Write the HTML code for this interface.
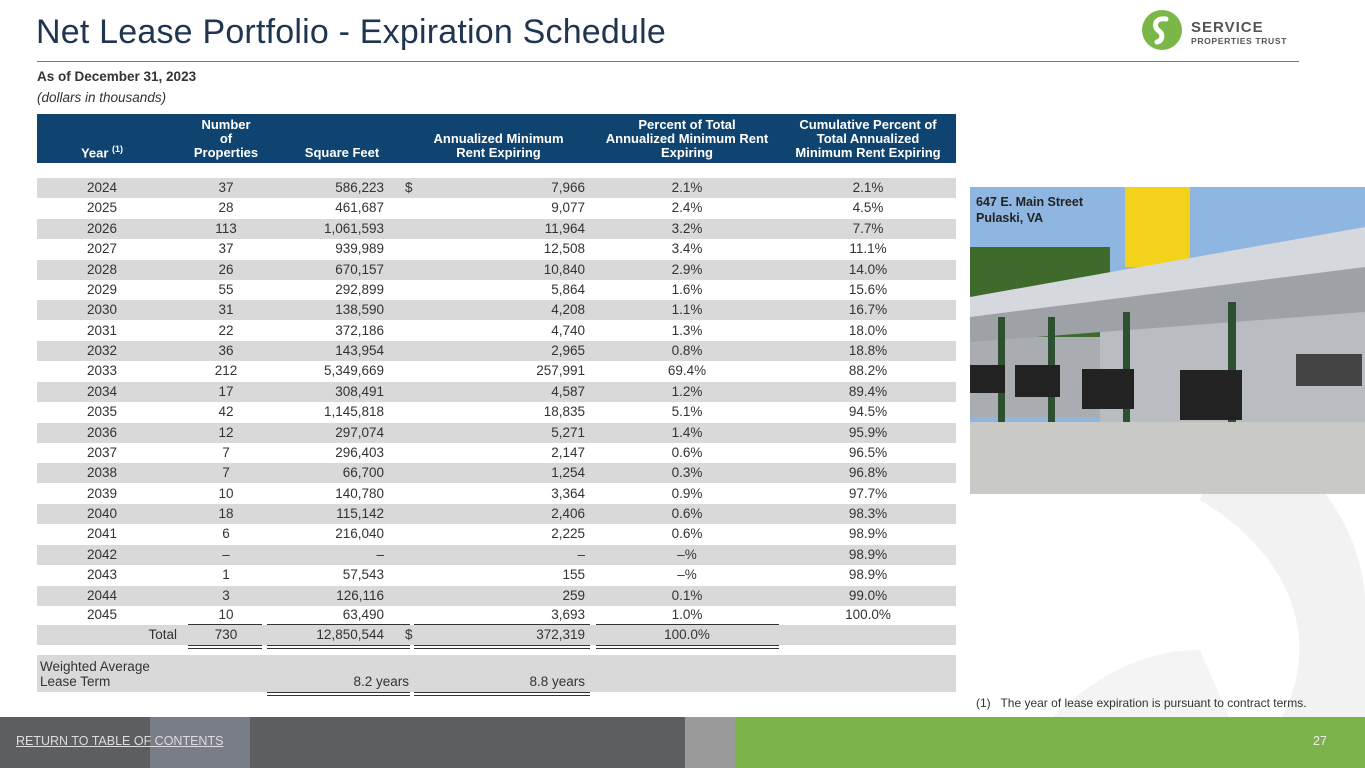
<!DOCTYPE html>
<html><head><meta charset="utf-8"><style>
*{margin:0;padding:0;box-sizing:border-box}
body{width:1365px;height:768px;position:relative;overflow:hidden;background:#fff;font-family:"Liberation Sans",sans-serif;color:#333}
.a{position:absolute}
.title{left:36px;top:13px;font-size:34px;color:#1f3550;letter-spacing:0.2px}
.hr{left:37px;top:61px;width:1262px;height:1px;background:#777}
.hdr{left:37px;top:114px;width:919px;height:49px;background:#0f4470}
.h{position:absolute;color:#fff;font-weight:bold;font-size:13px;text-align:center;line-height:14px;bottom:3px}
.row{position:absolute;left:37px;width:919px;height:20px;font-size:13.5px;line-height:20px}
.row.s{background:#d9d9d9}
.row span{position:absolute;top:0}
.c1{left:0;width:130px;text-align:center}
.c2{left:151px;width:76px;text-align:center}
.c3{left:231px;width:116px;text-align:right}
.c4{left:368px}
.c5{left:375px;width:173px;text-align:right}
.c6{left:559px;width:182px;text-align:center}
.c7{left:743px;width:176px;text-align:center}
.ul{position:absolute;height:1px;background:#333}
.dl{position:absolute;height:4px;border-top:1px solid #333;border-bottom:1px solid #333}
</style></head><body>
<svg class="a" style="left:900px;top:420px" width="465" height="300"><path d="M330 0 C420 40 470 120 465 200 L465 300 L380 300 C420 230 400 140 300 80 Z" fill="#f2f2f2"/><path d="M150 300 C190 260 240 230 300 230 L330 300 Z" fill="#f4f4f4"/></svg>
<div class="a title">Net Lease Portfolio - Expiration Schedule</div>
<div class="a hr"></div>
<svg class="a" style="left:1142px;top:10px" width="160" height="42">
<circle cx="20" cy="20" r="20" fill="#7ab648"/>
<path d="M24 9 C14 7 10 16 17 21 C22 25 20 31 15 32" stroke="#fff" stroke-width="5" fill="none" stroke-linecap="round"/>
<text x="49" y="22" font-family="Liberation Sans" font-weight="bold" font-size="15" fill="#555" letter-spacing="1">SERVICE</text>
<text x="49" y="34" font-family="Liberation Sans" font-weight="bold" font-size="8.6" fill="#555" letter-spacing="0.6">PROPERTIES TRUST</text>
</svg>
<div class="a" style="left:37px;top:69px;font-size:13.5px;font-weight:bold;color:#333">As of December 31, 2023</div>
<div class="a" style="left:37px;top:90px;font-size:13.5px;font-style:italic;color:#333">(dollars in thousands)</div>
<div class="a hdr">
<div class="h" style="left:0;width:130px">Year <sup style="font-size:9px">(1)</sup></div>
<div class="h" style="left:151px;width:76px">Number<br>of<br>Properties</div>
<div class="h" style="left:240px;width:130px">Square Feet</div>
<div class="h" style="left:375px;width:173px">Annualized Minimum<br>Rent Expiring</div>
<div class="h" style="left:559px;width:182px">Percent of Total<br>Annualized Minimum Rent<br>Expiring</div>
<div class="h" style="left:743px;width:176px">Cumulative Percent of<br>Total Annualized<br>Minimum Rent Expiring</div>
</div>
<div class="row s" style="top:178px"><span class="c1">2024</span><span class="c2">37</span><span class="c3">586,223</span><span class="c4">$</span><span class="c5">7,966</span><span class="c6">2.1%</span><span class="c7">2.1%</span></div>
<div class="row" style="top:198px"><span class="c1">2025</span><span class="c2">28</span><span class="c3">461,687</span><span class="c5">9,077</span><span class="c6">2.4%</span><span class="c7">4.5%</span></div>
<div class="row s" style="top:219px"><span class="c1">2026</span><span class="c2">113</span><span class="c3">1,061,593</span><span class="c5">11,964</span><span class="c6">3.2%</span><span class="c7">7.7%</span></div>
<div class="row" style="top:239px"><span class="c1">2027</span><span class="c2">37</span><span class="c3">939,989</span><span class="c5">12,508</span><span class="c6">3.4%</span><span class="c7">11.1%</span></div>
<div class="row s" style="top:260px"><span class="c1">2028</span><span class="c2">26</span><span class="c3">670,157</span><span class="c5">10,840</span><span class="c6">2.9%</span><span class="c7">14.0%</span></div>
<div class="row" style="top:280px"><span class="c1">2029</span><span class="c2">55</span><span class="c3">292,899</span><span class="c5">5,864</span><span class="c6">1.6%</span><span class="c7">15.6%</span></div>
<div class="row s" style="top:300px"><span class="c1">2030</span><span class="c2">31</span><span class="c3">138,590</span><span class="c5">4,208</span><span class="c6">1.1%</span><span class="c7">16.7%</span></div>
<div class="row" style="top:321px"><span class="c1">2031</span><span class="c2">22</span><span class="c3">372,186</span><span class="c5">4,740</span><span class="c6">1.3%</span><span class="c7">18.0%</span></div>
<div class="row s" style="top:341px"><span class="c1">2032</span><span class="c2">36</span><span class="c3">143,954</span><span class="c5">2,965</span><span class="c6">0.8%</span><span class="c7">18.8%</span></div>
<div class="row" style="top:361px"><span class="c1">2033</span><span class="c2">212</span><span class="c3">5,349,669</span><span class="c5">257,991</span><span class="c6">69.4%</span><span class="c7">88.2%</span></div>
<div class="row s" style="top:382px"><span class="c1">2034</span><span class="c2">17</span><span class="c3">308,491</span><span class="c5">4,587</span><span class="c6">1.2%</span><span class="c7">89.4%</span></div>
<div class="row" style="top:402px"><span class="c1">2035</span><span class="c2">42</span><span class="c3">1,145,818</span><span class="c5">18,835</span><span class="c6">5.1%</span><span class="c7">94.5%</span></div>
<div class="row s" style="top:423px"><span class="c1">2036</span><span class="c2">12</span><span class="c3">297,074</span><span class="c5">5,271</span><span class="c6">1.4%</span><span class="c7">95.9%</span></div>
<div class="row" style="top:443px"><span class="c1">2037</span><span class="c2">7</span><span class="c3">296,403</span><span class="c5">2,147</span><span class="c6">0.6%</span><span class="c7">96.5%</span></div>
<div class="row s" style="top:463px"><span class="c1">2038</span><span class="c2">7</span><span class="c3">66,700</span><span class="c5">1,254</span><span class="c6">0.3%</span><span class="c7">96.8%</span></div>
<div class="row" style="top:484px"><span class="c1">2039</span><span class="c2">10</span><span class="c3">140,780</span><span class="c5">3,364</span><span class="c6">0.9%</span><span class="c7">97.7%</span></div>
<div class="row s" style="top:504px"><span class="c1">2040</span><span class="c2">18</span><span class="c3">115,142</span><span class="c5">2,406</span><span class="c6">0.6%</span><span class="c7">98.3%</span></div>
<div class="row" style="top:524px"><span class="c1">2041</span><span class="c2">6</span><span class="c3">216,040</span><span class="c5">2,225</span><span class="c6">0.6%</span><span class="c7">98.9%</span></div>
<div class="row s" style="top:545px"><span class="c1">2042</span><span class="c2">–</span><span class="c3">–</span><span class="c5">–</span><span class="c6">–%</span><span class="c7">98.9%</span></div>
<div class="row" style="top:565px"><span class="c1">2043</span><span class="c2">1</span><span class="c3">57,543</span><span class="c5">155</span><span class="c6">–%</span><span class="c7">98.9%</span></div>
<div class="row s" style="top:586px"><span class="c1">2044</span><span class="c2">3</span><span class="c3">126,116</span><span class="c5">259</span><span class="c6">0.1%</span><span class="c7">99.0%</span></div>
<div class="row" style="top:605px"><span class="c1">2045</span><span class="c2">10</span><span class="c3">63,490</span><span class="c5">3,693</span><span class="c6">1.0%</span><span class="c7">100.0%</span></div>
<div class="row s" style="top:625px"><span style="left:0;width:140px;text-align:right">Total</span><span class="c2">730</span><span class="c3">12,850,544</span><span class="c4">$</span><span class="c5">372,319</span><span class="c6">100.0%</span></div>
<div class="ul" style="left:188px;top:624px;width:74px"></div>
<div class="ul" style="left:267px;top:624px;width:143px"></div>
<div class="ul" style="left:414px;top:624px;width:176px"></div>
<div class="ul" style="left:596px;top:624px;width:183px"></div>
<div class="dl" style="left:188px;top:645px;width:74px"></div>
<div class="dl" style="left:267px;top:645px;width:143px"></div>
<div class="dl" style="left:414px;top:645px;width:176px"></div>
<div class="dl" style="left:596px;top:645px;width:183px"></div>
<div class="a" style="left:37px;top:655px;width:919px;height:37px;background:#d9d9d9;font-size:13.5px;line-height:15px">
<div class="a" style="left:3px;top:4px">Weighted Average<br>Lease Term</div>
<div class="a" style="left:231px;top:19px;width:141px;text-align:right">8.2 years</div>
<div class="a" style="left:377px;top:19px;width:171px;text-align:right">8.8 years</div>
</div>
<div class="dl" style="left:267px;top:692px;width:143px"></div>
<div class="dl" style="left:414px;top:692px;width:176px"></div>
<svg class="a" style="left:970px;top:187px" width="395" height="307">
<rect width="395" height="307" fill="#8fb6e0"/>
<rect y="60" width="140" height="160" fill="#3e6b2c"/>
<rect y="150" width="395" height="80" fill="#a9acb0"/>
<rect x="130" y="120" width="265" height="130" fill="#b9bcc0"/>
<rect x="155" y="0" width="65" height="80" fill="#f2d21a"/>
<polygon points="0,110 395,40 395,90 0,140" fill="#d5d8dc"/>
<polygon points="0,130 395,80 395,125 0,155" fill="#9ea2a7"/>
<rect x="28" y="130" width="7" height="110" fill="#2d5030"/><rect x="78" y="130" width="7" height="120" fill="#2d5030"/><rect x="153" y="125" width="7" height="140" fill="#2d5030"/><rect x="258" y="115" width="8" height="170" fill="#2d5030"/>
<rect x="0" y="178" width="35" height="28" fill="#222"/><rect x="45" y="178" width="45" height="32" fill="#222"/><rect x="112" y="182" width="52" height="40" fill="#222"/><rect x="210" y="183" width="62" height="50" fill="#222"/><rect x="326" y="167" width="66" height="32" fill="#444"/>
<rect y="235" width="395" height="72" fill="#c9c9c6"/>
<text x="6" y="19" font-family="Liberation Sans" font-weight="bold" font-size="12.5" fill="#222">647 E. Main Street</text>
<text x="6" y="35" font-family="Liberation Sans" font-weight="bold" font-size="12.5" fill="#222">Pulaski, VA</text>
</svg>
<div class="a" style="left:976px;top:696px;font-size:12px;color:#333">(1)&nbsp;&nbsp; The year of lease expiration is pursuant to contract terms.</div>
<div class="a" style="left:0;top:717px;width:730px;height:51px;background:#5c5e62"></div>
<div class="a" style="left:150px;top:717px;width:100px;height:51px;background:#8c93a0;opacity:.6"></div>
<div class="a" style="left:685px;top:717px;width:50px;height:51px;background:#9a9a9a"></div>
<div class="a" style="left:735px;top:717px;width:630px;height:51px;background:#7bb34a"></div>
<div class="a" style="left:16px;top:734px;font-size:12.5px;color:#ddd;text-decoration:underline">RETURN TO TABLE OF CONTENTS</div>
<div class="a" style="left:1313px;top:734px;font-size:12.5px;color:#eee">27</div>
</body></html>
